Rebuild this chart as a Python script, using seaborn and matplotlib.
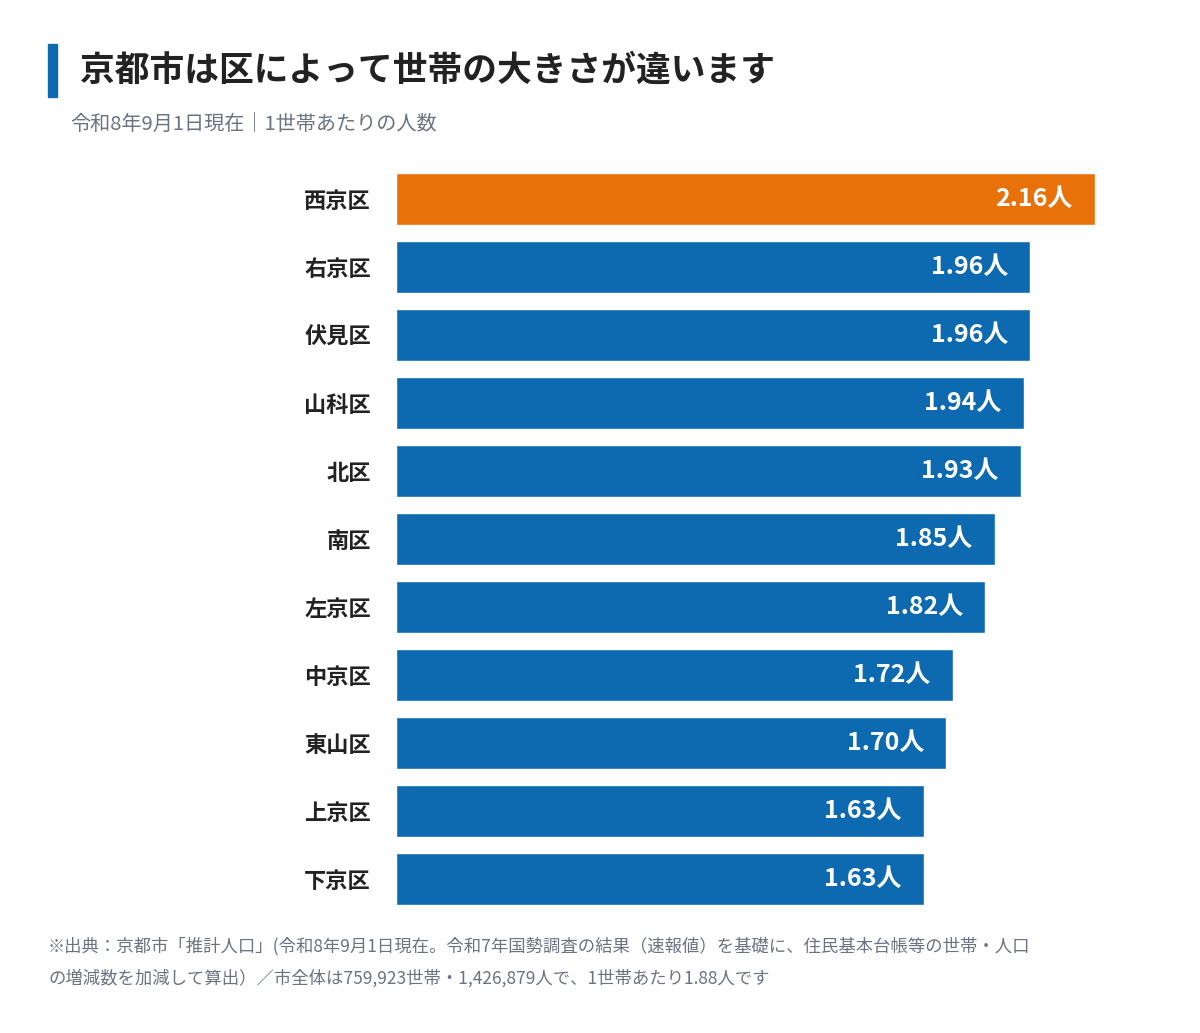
import matplotlib
matplotlib.use("Agg")
import matplotlib.pyplot as plt
import seaborn as sns
import pandas as pd

# ── data ──
wards = ['西京区', '右京区', '伏見区', '山科区', '北区', '南区', '左京区',
         '中京区', '東山区', '上京区', '下京区']
persons = [2.16, 1.96, 1.96, 1.94, 1.93, 1.85, 1.82, 1.72, 1.70, 1.63, 1.63]
highlight = '西京区'

ORANGE = '#E8710A'
BLUE = '#0D6AB0'
GRAY = '#6B7280'

sns.set_style('white')
plt.rcParams['font.family'] = ['Noto Sans CJK JP', 'DejaVu Sans']

df = pd.DataFrame({'ward': wards, 'persons': persons})
palette = {w: (ORANGE if w == highlight else BLUE) for w in wards}

fig = plt.figure(figsize=(12, 10.33), dpi=100)
ax = fig.add_axes([0.33, 0.1162, 0.5867, 0.7241])
sns.barplot(data=df, x='persons', y='ward', hue='ward', palette=palette,
            order=wards, width=0.765, legend=False, ax=ax, saturation=1)

ax.set_xlim(0, 2.1755)
ax.set_ylim(len(wards) - 0.5, -0.5)
ax.set_xlabel('')
ax.set_ylabel('')
ax.set_xticks([])
ax.tick_params(axis='y', length=0, pad=18)
for lab in ax.get_yticklabels():
    lab.set_fontsize(16)
    lab.set_fontweight('bold')
    lab.set_color('#222222')
sns.despine(ax=ax, left=True, bottom=True)

for i, v in enumerate(persons):
    ax.annotate(f'{v:.2f}人', xy=(v, i), xytext=(-16, 0), textcoords='offset points',
                ha='right', va='center', color='white', fontsize=18, fontweight='bold')

# title block
fig.patches.append(plt.Rectangle((48 / 1200, 1 - 97 / 1033), 9 / 1200, 53 / 1033,
                                 transform=fig.transFigure, color=BLUE))
fig.text(80 / 1200, 1 - 70 / 1033, '京都市は区によって世帯の大きさが違います',
         fontsize=25, fontweight='bold', color='#222222', va='center')
fig.text(70 / 1200, 1 - 124 / 1033, '令和8年9月1日現在｜1世帯あたりの人数',
         fontsize=14.5, color=GRAY, va='center')

# footnote
fig.text(48 / 1200, 1 - 946 / 1033,
         '※出典：京都市「推計人口」(令和8年9月1日現在。令和7年国勢調査の結果（速報値）を基礎に、住民基本台帳等の世帯・人口',
         fontsize=12.5, color=GRAY, va='center')
fig.text(48 / 1200, 1 - 978 / 1033,
         'の増減数を加減して算出）／市全体は759,923世帯・1,426,879人で、1世帯あたり1.88人です',
         fontsize=12.5, color=GRAY, va='center')

fig.savefig('out.png', dpi=100)
